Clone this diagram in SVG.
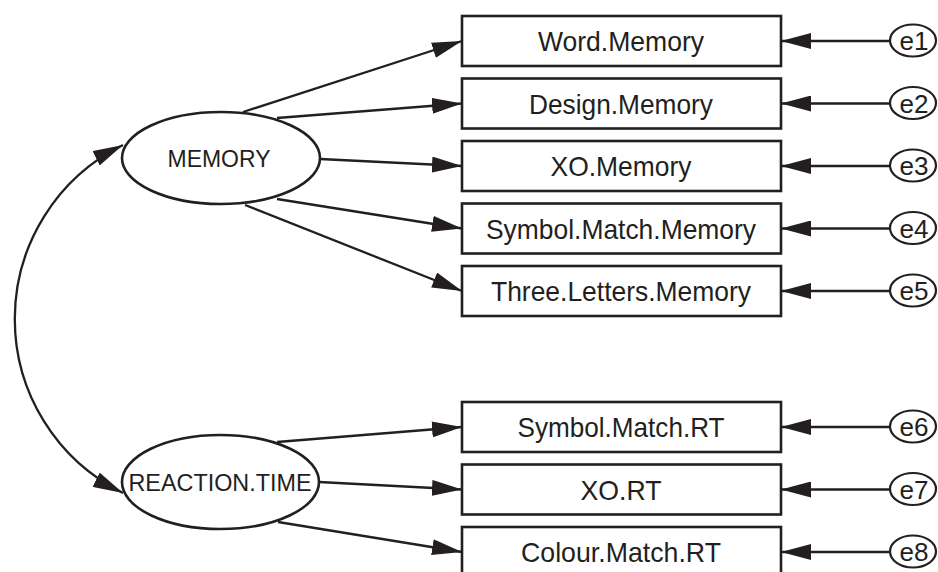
<svg xmlns="http://www.w3.org/2000/svg" width="938" height="572" viewBox="0 0 938 572">
<defs>
<style>
.box{fill:#fff;stroke:#231f20;stroke-width:2.6}
.lat{fill:#fff;stroke:#231f20;stroke-width:2.6}
.err{fill:#fff;stroke:#231f20;stroke-width:2.2}
.edge{fill:none;stroke:#231f20;stroke-width:2.3;marker-end:url(#ah)}
.cov{fill:none;stroke:#231f20;stroke-width:2.3;marker-start:url(#ah);marker-end:url(#ah)}
.t{font-family:"Liberation Sans",Arial,sans-serif;fill:#231f20;text-anchor:middle}
.bt{font-size:28px}
.lt{font-size:23.5px}
.et{font-size:25.5px}
</style>
<marker id="ah" markerUnits="userSpaceOnUse" viewBox="0 0 30 16" refX="30" refY="8" markerWidth="30" markerHeight="16" orient="auto-start-reverse">
<path d="M0,0 L30,8 L0,16 Z" fill="#231f20"/>
</marker>
</defs>
<rect width="938" height="572" fill="#fff"/>
<g id="connectors">
<path class="cov" d="M123,145 A194,194 0 0 0 123,493"/>
<path class="edge" d="M243,112 L462,41"/>
<path class="edge" d="M277,118 L462,103.5"/>
<path class="edge" d="M320,159 L462,166"/>
<path class="edge" d="M277,199 L462,228.5"/>
<path class="edge" d="M245,205 L462,291"/>
<path class="edge" d="M277,442 L462,427"/>
<path class="edge" d="M319,482 L462,489.5"/>
<path class="edge" d="M278,522 L462,552"/>
<path class="edge" d="M890,41 L781,41"/>
<path class="edge" d="M890,103.5 L781,103.5"/>
<path class="edge" d="M890,166 L781,166"/>
<path class="edge" d="M890,228.5 L781,228.5"/>
<path class="edge" d="M890,291 L781,291"/>
<path class="edge" d="M890,427 L781,427"/>
<path class="edge" d="M890,489.5 L781,489.5"/>
<path class="edge" d="M890,552 L781,552"/>
</g>
<g id="MEMORY"><ellipse class="lat" cx="221" cy="158" rx="99" ry="46"/><text class="t lt" x="219" y="166.5" textLength="103" lengthAdjust="spacingAndGlyphs">MEMORY</text></g>
<g id="REACTION.TIME"><ellipse class="lat" cx="220.5" cy="482" rx="98.5" ry="47"/><text class="t lt" x="220" y="490.5" textLength="183" lengthAdjust="spacingAndGlyphs">REACTION.TIME</text></g>
<g id="Word.Memory"><rect class="box" x="462" y="16" width="319" height="50"/><text class="t bt" x="621" y="51" textLength="166" lengthAdjust="spacingAndGlyphs">Word.Memory</text></g>
<g id="Design.Memory"><rect class="box" x="462" y="78.5" width="319" height="50"/><text class="t bt" x="621" y="113.5" textLength="184" lengthAdjust="spacingAndGlyphs">Design.Memory</text></g>
<g id="XO.Memory"><rect class="box" x="462" y="141" width="319" height="50"/><text class="t bt" x="621" y="176" textLength="141" lengthAdjust="spacingAndGlyphs">XO.Memory</text></g>
<g id="Symbol.Match.Memory"><rect class="box" x="462" y="203.5" width="319" height="50"/><text class="t bt" x="621" y="238.5" textLength="270" lengthAdjust="spacingAndGlyphs">Symbol.Match.Memory</text></g>
<g id="Three.Letters.Memory"><rect class="box" x="462" y="266" width="319" height="50"/><text class="t bt" x="621" y="301" textLength="260" lengthAdjust="spacingAndGlyphs">Three.Letters.Memory</text></g>
<g id="Symbol.Match.RT"><rect class="box" x="462" y="402" width="319" height="50"/><text class="t bt" x="621" y="437" textLength="207" lengthAdjust="spacingAndGlyphs">Symbol.Match.RT</text></g>
<g id="XO.RT"><rect class="box" x="462" y="464.5" width="319" height="50"/><text class="t bt" x="621" y="499.5" textLength="81" lengthAdjust="spacingAndGlyphs">XO.RT</text></g>
<g id="Colour.Match.RT"><rect class="box" x="462" y="527" width="319" height="50"/><text class="t bt" x="621" y="562" textLength="200" lengthAdjust="spacingAndGlyphs">Colour.Match.RT</text></g>
<g id="e1"><ellipse class="err" cx="913" cy="40.5" rx="23" ry="16"/><text class="t et" x="914" y="50" textLength="29" lengthAdjust="spacingAndGlyphs">e1</text></g>
<g id="e2"><ellipse class="err" cx="913" cy="103" rx="23" ry="16"/><text class="t et" x="914" y="112.5" textLength="29" lengthAdjust="spacingAndGlyphs">e2</text></g>
<g id="e3"><ellipse class="err" cx="913" cy="165.5" rx="23" ry="16"/><text class="t et" x="914" y="175" textLength="29" lengthAdjust="spacingAndGlyphs">e3</text></g>
<g id="e4"><ellipse class="err" cx="913" cy="228" rx="23" ry="16"/><text class="t et" x="914" y="237.5" textLength="29" lengthAdjust="spacingAndGlyphs">e4</text></g>
<g id="e5"><ellipse class="err" cx="913" cy="290.5" rx="23" ry="16"/><text class="t et" x="914" y="300" textLength="29" lengthAdjust="spacingAndGlyphs">e5</text></g>
<g id="e6"><ellipse class="err" cx="913" cy="426.5" rx="23" ry="16"/><text class="t et" x="914" y="436" textLength="29" lengthAdjust="spacingAndGlyphs">e6</text></g>
<g id="e7"><ellipse class="err" cx="913" cy="489" rx="23" ry="16"/><text class="t et" x="914" y="498.5" textLength="29" lengthAdjust="spacingAndGlyphs">e7</text></g>
<g id="e8"><ellipse class="err" cx="913" cy="551.5" rx="23" ry="16"/><text class="t et" x="914" y="561" textLength="29" lengthAdjust="spacingAndGlyphs">e8</text></g>
</svg>
